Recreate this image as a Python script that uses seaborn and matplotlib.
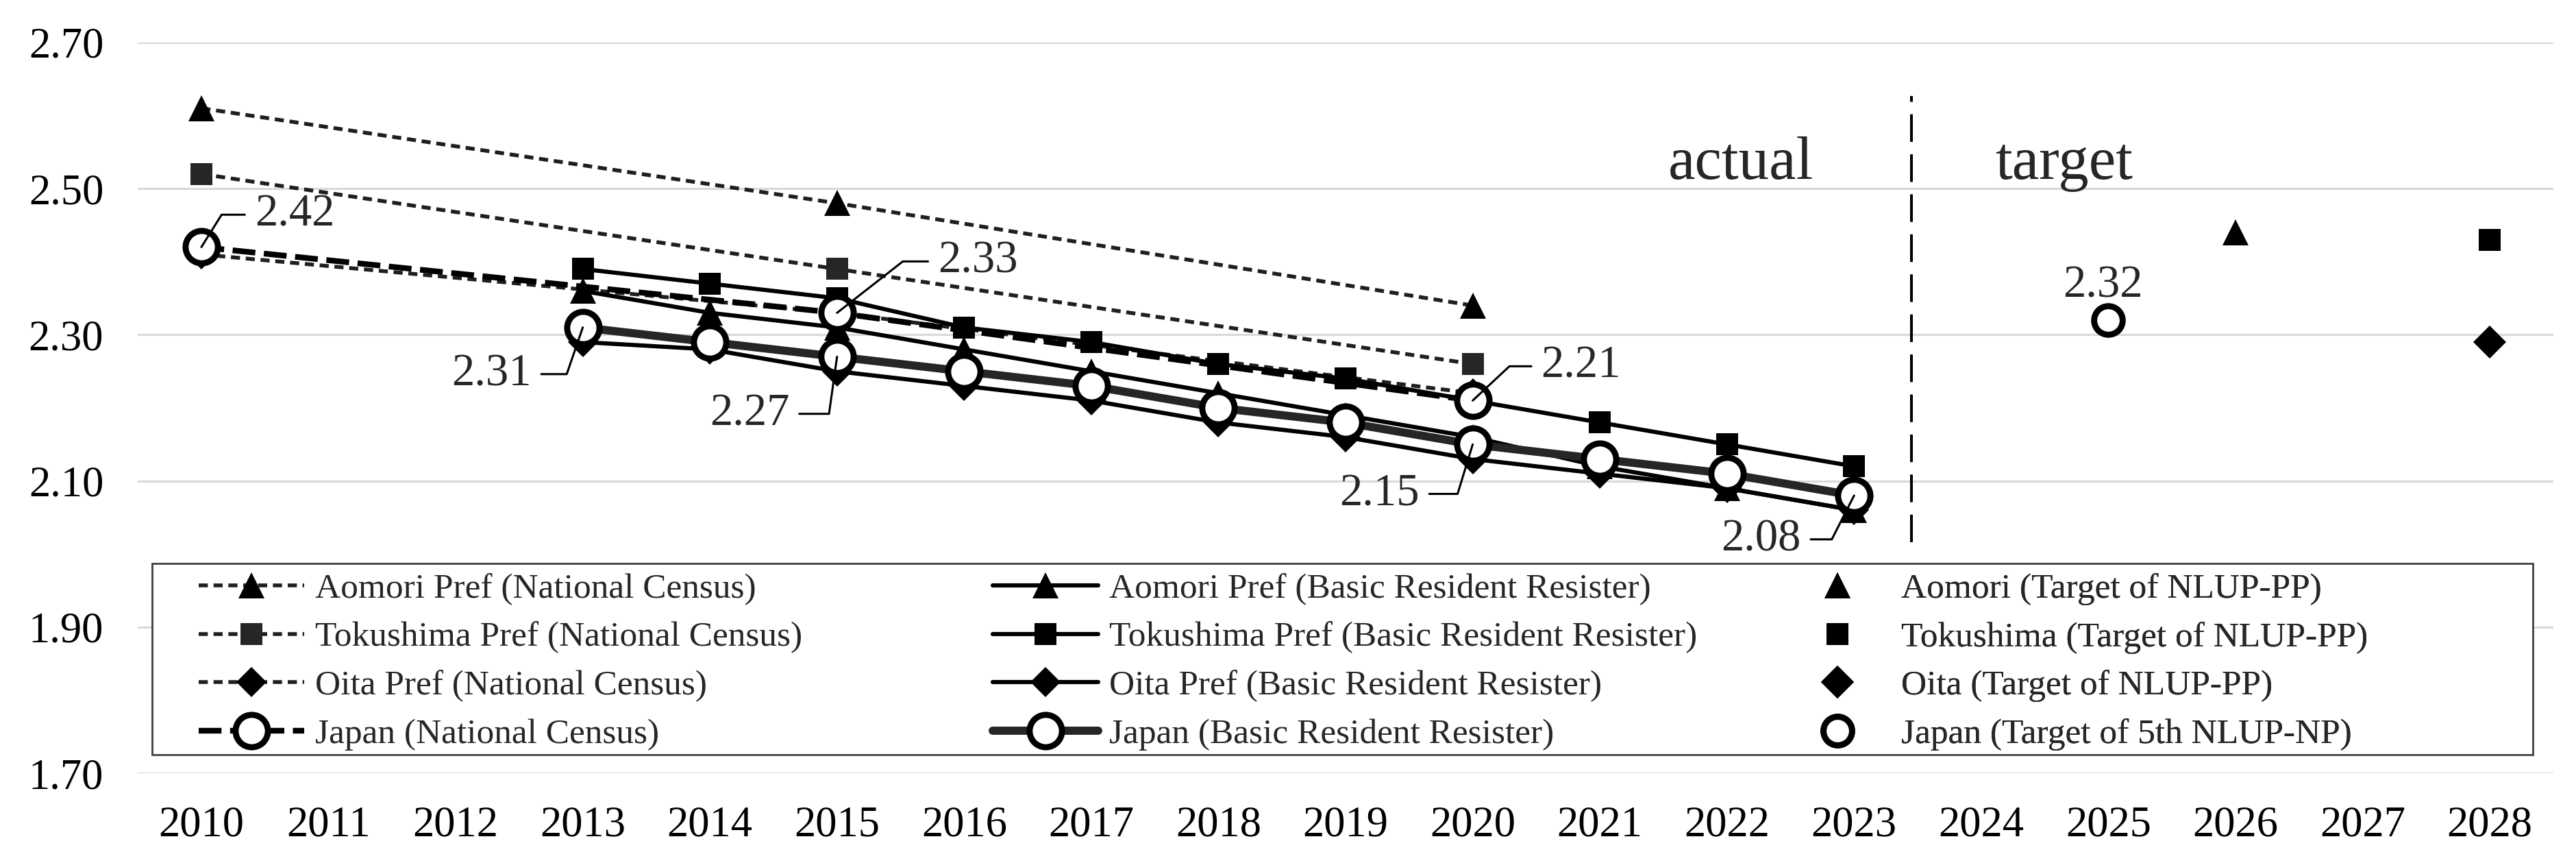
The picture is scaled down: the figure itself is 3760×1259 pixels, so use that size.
import pandas as pd
import seaborn as sns
import matplotlib.pyplot as plt
from matplotlib.patches import Rectangle

# National Census (every 5 years)
years_nc = [2010, 2015, 2020]
aomori_nc = [2.61, 2.48, 2.34]
tokushima_nc = [2.52, 2.39, 2.26]
oita_nc = [2.41, 2.33, 2.22]
japan_nc = [2.42, 2.33, 2.21]

# Basic Resident Resister (yearly)
years_brr = [2013, 2014, 2015, 2016, 2017, 2018, 2019, 2020, 2021, 2022, 2023]
aomori_brr = [2.36, 2.33, 2.31, 2.28, 2.25, 2.22, 2.19, 2.16, 2.12, 2.09, 2.06]
tokushima_brr = [2.39, 2.37, 2.35, 2.31, 2.29, 2.26, 2.24, 2.21, 2.18, 2.15, 2.12]
oita_brr = [2.29, 2.28, 2.25, 2.23, 2.21, 2.18, 2.16, 2.13, 2.11, 2.09, 2.06]
japan_brr = [2.31, 2.29, 2.27, 2.25, 2.23, 2.20, 2.18, 2.15, 2.13, 2.11, 2.08]

# targets
aomori_target_year = [2026]
aomori_target = [2.44]
tokushima_target_year = [2028]
tokushima_target = [2.43]
oita_target_year = [2028]
oita_target = [2.29]
japan_target_year = [2025]
japan_target = [2.32]

all_years = list(range(2010, 2029))
y_ticks = [1.70, 1.90, 2.10, 2.30, 2.50, 2.70]

sns.set_theme(style='white')
plt.rcParams['font.family'] = ['Liberation Serif', 'DejaVu Serif']

fig, ax = plt.subplots(figsize=(18.8, 6.295), dpi=200)
fig.subplots_adjust(left=0.0535, right=0.9912, top=0.9508, bottom=0.104)

thin_dash = (0, (2.4, 1.5))
thick_dash = (0, (4.0, 1.5))
handles = []


def draw(x, y, label, **kw):
    sns.lineplot(x=x, y=y, ax=ax, label=label, legend=False, **kw)
    line = ax.lines[-1]
    handles.append(line)
    return line


# national census lines
draw(years_nc, aomori_nc, 'Aomori Pref (National Census)', color='#1f1f1f', lw=2.0,
     linestyle=thin_dash, marker='^', markersize=14, markeredgewidth=0,
     markerfacecolor='black', zorder=3)
draw(years_nc, tokushima_nc, 'Tokushima Pref (National Census)', color='#1f1f1f', lw=2.0,
     linestyle=thin_dash, marker='s', markersize=11.5, markeredgewidth=0,
     markerfacecolor='#262626', zorder=3)
draw(years_nc, oita_nc, 'Oita Pref (National Census)', color='#1f1f1f', lw=2.0,
     linestyle=thin_dash, marker='D', markersize=11, markeredgewidth=0,
     markerfacecolor='black', zorder=3)
h_japan_nc = dict(x=years_nc, y=japan_nc, label='Japan (National Census)', color='black',
                  lw=3.0, linestyle=thick_dash, marker='o', markersize=17,
                  markeredgewidth=3.2, markerfacecolor='white', markeredgecolor='black',
                  zorder=4.5)

# basic resident resister lines
draw(years_brr, aomori_brr, 'Aomori Pref (Basic Resident Resister)', color='black', lw=2.2,
     marker='^', markersize=14, markeredgewidth=0, markerfacecolor='black', zorder=3.5)
draw(years_brr, tokushima_brr, 'Tokushima Pref (Basic Resident Resister)', color='black',
     lw=2.2, marker='s', markersize=11.5, markeredgewidth=0, markerfacecolor='black',
     zorder=3.5)
draw(years_brr, oita_brr, 'Oita Pref (Basic Resident Resister)', color='black', lw=2.2,
     marker='D', markersize=11, markeredgewidth=0, markerfacecolor='black', zorder=3.5)
draw(years_brr, japan_brr, 'Japan (Basic Resident Resister)', color='#262626', lw=4.3,
     marker='o', markersize=17, markeredgewidth=3.2, markerfacecolor='white',
     markeredgecolor='black', zorder=4)
jn = h_japan_nc
draw(jn.pop('x'), jn.pop('y'), jn.pop('label'), **jn)

# targets
draw(aomori_target_year, aomori_target, 'Aomori (Target of NLUP-PP)', color='black',
     linestyle='', marker='^', markersize=14, markeredgewidth=0, zorder=4)
draw(tokushima_target_year, tokushima_target, 'Tokushima (Target of NLUP-PP)', color='black',
     linestyle='', marker='s', markersize=11.5, markeredgewidth=0, zorder=4)
draw(oita_target_year, oita_target, 'Oita (Target of NLUP-PP)', color='black',
     linestyle='', marker='D', markersize=12, markeredgewidth=0, zorder=4)
draw(japan_target_year, japan_target, 'Japan (Target of 5th NLUP-NP)', color='black',
     linestyle='', marker='o', markersize=15, markeredgewidth=3.2, markerfacecolor='white',
     markeredgecolor='black', zorder=4)

# reorder: NC column, BRR column, target column
order = [0, 1, 2, 7, 3, 4, 5, 6, 8, 9, 10, 11]
handles = [handles[i] for i in order]

# axes styling
ax.set_xlim(2009.5, 2028.5)
ax.set_ylim(1.70, 2.70)
ax.set_xticks(all_years)
ax.set_xticklabels([str(y) for y in all_years], fontsize=22.5)
ax.set_yticks(y_ticks)
ax.set_yticklabels(['%.2f' % v for v in y_ticks], fontsize=22.5)
ax.tick_params(axis='both', length=0, colors='black')
ax.tick_params(axis='y', pad=18)
ax.tick_params(axis='x', pad=17)
ax.yaxis.grid(True, color='#d9d9d9', lw=1.1)
ax.xaxis.grid(False)
ax.set_axisbelow(True)
for s in ax.spines.values():
    s.set_visible(False)
ax.set_xlabel('')
ax.set_ylabel('')

# actual / target divider
ax.axvline(2023.45, ymin=0.316, ymax=0.927, color='black', lw=1.45,
           linestyle=(0, (10, 4.5)), zorder=2)
ax.text(2021.54, 2.513, 'actual', fontsize=32, ha='left', va='baseline')
ax.text(2024.11, 2.513, 'target', fontsize=32, ha='left', va='baseline')

# data labels with leader lines
labels_up = [(2010, japan_nc[0], 28, 17, 58),
             (2015, japan_nc[1], 53, 27, 38),
             (2020, japan_nc[2], 36, 18, 43)]
for x, y, dx, dy, ang in labels_up:
    ax.annotate('%.2f' % y, xy=(x, y), xytext=(dx, dy), textcoords='offset points',
                fontsize=24, ha='left', va='center', zorder=6,
                arrowprops=dict(arrowstyle='-', color='black', lw=1.1, shrinkA=3,
                                shrinkB=0, relpos=(0, 0.5),
                                connectionstyle='angle,angleA=0,angleB=%d,rad=0' % ang))

labels_down = [(2013, japan_brr[0], -27, -24.5, 71),
               (2015, japan_brr[2], -25, -30, 82),
               (2020, japan_brr[7], -28, -26, 73),
               (2023, japan_brr[10], -28, -23, 63)]
for x, y, dx, dy, ang in labels_down:
    ax.annotate('%.2f' % y, xy=(x, y), xytext=(dx, dy), textcoords='offset points',
                fontsize=24, ha='right', va='center', zorder=6,
                arrowprops=dict(arrowstyle='-', color='black', lw=1.1, shrinkA=3,
                                shrinkB=0, relpos=(1, 0.5),
                                connectionstyle='angle,angleA=0,angleB=%d,rad=0' % ang))

ax.annotate('%.2f' % japan_target[0], xy=(japan_target_year[0], japan_target[0]),
            xytext=(-3, 18), textcoords='offset points', fontsize=24,
            ha='center', va='center', zorder=6)

# legend: frame + three equal-width columns
frame = Rectangle((0.006, 0.0253), 0.9855, 0.2617, transform=ax.transAxes,
                  facecolor='white', edgecolor='#404040', lw=1.0, zorder=5)
ax.add_patch(frame)

col_x = [0.0252, 0.354, 0.6818]
for c in range(3):
    hs = handles[c * 4:(c + 1) * 4]
    leg = ax.legend(hs, [h.get_label() for h in hs], loc='upper left',
                    bbox_to_anchor=(col_x[c], 0.274), frameon=False, borderpad=0,
                    borderaxespad=0, handlelength=3, handletextpad=0.3,
                    labelspacing=0.46, fontsize=18.5)
    leg.set_zorder(6)
    ax.add_artist(leg)

fig.savefig('out.png', dpi=200)
